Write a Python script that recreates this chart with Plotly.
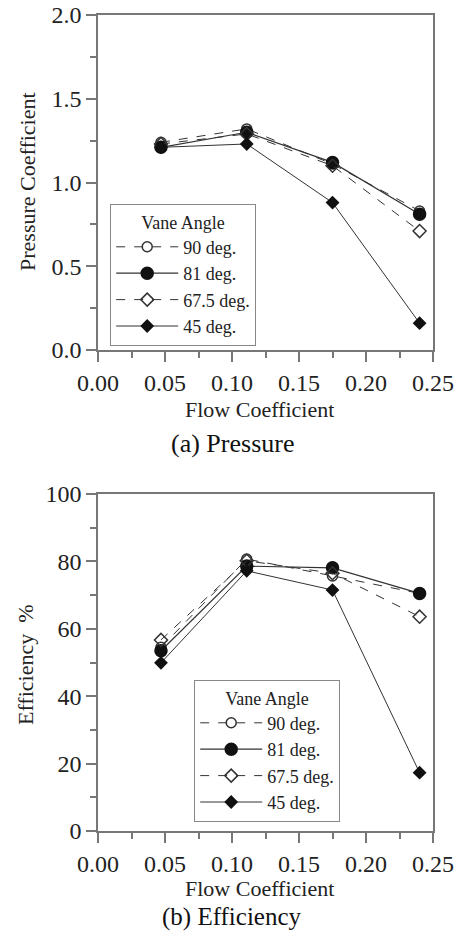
import plotly.graph_objects as go

# ---- data ----
flow = [0.047, 0.111, 0.175, 0.240]
angles = ["90 deg.", "81 deg.", "67.5 deg.", "45 deg."]
pressure_90 = [1.24, 1.32, 1.11, 0.83]
pressure_81 = [1.21, 1.30, 1.12, 0.81]
pressure_675 = [1.23, 1.29, 1.10, 0.71]
pressure_45 = [1.21, 1.23, 0.88, 0.16]
eff_90 = [54.5, 80.7, 75.7, 70.5]
eff_81 = [53.5, 78.6, 78.1, 70.5]
eff_675 = [56.7, 80.2, 76.5, 63.6]
eff_45 = [49.9, 77.2, 71.5, 17.3]

pressure = [pressure_90, pressure_81, pressure_675, pressure_45]
efficiency = [eff_90, eff_81, eff_675, eff_45]

styles = [
    dict(symbol="circle-open", size=10, dash="dash", mcolor="#333", lw=1.0),
    dict(symbol="circle", size=12, dash="solid", mcolor="#111", lw=1.2),
    dict(symbol="diamond-open", size=10, dash="dash", mcolor="#333", lw=1.0),
    dict(symbol="diamond", size=9, dash="solid", mcolor="#111", lw=1.0),
]

FONT = "Liberation Serif, Times New Roman, DejaVu Serif, serif"
W, H = 454, 932

fig = go.Figure()

for vals, st, name in zip(pressure, styles, angles):
    fig.add_trace(go.Scatter(
        x=flow, y=vals, name=name, mode="lines+markers",
        line=dict(color="#333", width=st["lw"], dash=st["dash"]),
        marker=dict(symbol=st["symbol"], size=st["size"], color=st["mcolor"],
                    line=dict(color=st["mcolor"], width=1.5)),
        xaxis="x", yaxis="y", legend="legend"))

for vals, st, name in zip(efficiency, styles, angles):
    fig.add_trace(go.Scatter(
        x=flow, y=vals, name=name, mode="lines+markers",
        line=dict(color="#333", width=st["lw"], dash=st["dash"]),
        marker=dict(symbol=st["symbol"], size=st["size"], color=st["mcolor"],
                    line=dict(color=st["mcolor"], width=1.5)),
        xaxis="x2", yaxis="y2", legend="legend2"))


def px_x(p):
    return p / W


def px_y(p):
    return 1 - p / H


axis_common = dict(
    showline=True, linecolor="#777", linewidth=1.5, mirror=True,
    ticks="outside", ticklen=10, tickwidth=1.5, tickcolor="#777",
    showgrid=False, zeroline=False, automargin=False,
    tickfont=dict(family=FONT, size=24, color="#222"),
)

xdom = [px_x(98), px_x(433)]

legend_common = dict(
    xanchor="left", yanchor="top",
    bordercolor="#888", borderwidth=1.2, bgcolor="white",
    font=dict(family=FONT, size=18, color="#222"),
    title=dict(text="Vane Angle", side="top center",
               font=dict(family=FONT, size=18, color="#222")),
    itemwidth=62, tracegroupgap=0,
)

fig.update_layout(
    width=W, height=H, margin=dict(l=0, r=0, t=0, b=0, autoexpand=False),
    paper_bgcolor="white", plot_bgcolor="white",
    font=dict(family=FONT, color="#222"),
    xaxis=dict(domain=xdom, range=[0, 0.25], dtick=0.05, tickformat=".2f",
               minor=dict(dtick=0.025, ticks="outside", ticklen=6, tickcolor="#777"),
               anchor="y", **axis_common),
    yaxis=dict(domain=[px_y(350), px_y(15)], range=[0, 2.0], dtick=0.5, tickformat=".1f",
               minor=dict(dtick=0.25, ticks="outside", ticklen=6, tickcolor="#777"),
               anchor="x", **axis_common),
    xaxis2=dict(domain=xdom, range=[0, 0.25], dtick=0.05, tickformat=".2f",
                minor=dict(dtick=0.025, ticks="outside", ticklen=6, tickcolor="#777"),
                anchor="y2", **axis_common),
    yaxis2=dict(domain=[px_y(831), px_y(494)], range=[0, 100], dtick=20,
                minor=dict(dtick=10, ticks="outside", ticklen=6, tickcolor="#777"),
                anchor="x2", **axis_common),
    legend=dict(x=px_x(110), y=px_y(204), **legend_common),
    legend2=dict(x=px_x(194), y=px_y(680), **legend_common),
)

ann_font_title = dict(family=FONT, size=22, color="#222")
ann_font_cap = dict(family=FONT, size=25, color="#111")
annotations = [
    dict(text="Flow Coefficient", x=px_x(259), y=px_y(409), font=ann_font_title),
    dict(text="Flow Coefficient", x=px_x(259), y=px_y(888), font=ann_font_title),
    dict(text="Pressure Coefficient", x=px_x(27), y=px_y(182), textangle=-90, font=ann_font_title),
    dict(text="Efficiency  %", x=px_x(25), y=px_y(665), textangle=-90, font=ann_font_title),
    dict(text="(a) Pressure", x=px_x(232), y=px_y(443), font=dict(family=FONT, size=26, color="#111")),
    dict(text="(b) Efficiency", x=px_x(232), y=px_y(917), font=ann_font_cap),
]
for a in annotations:
    a.update(xref="paper", yref="paper", showarrow=False, xanchor="center", yanchor="middle")
fig.update_layout(annotations=annotations)

fig.write_html("out.html")
